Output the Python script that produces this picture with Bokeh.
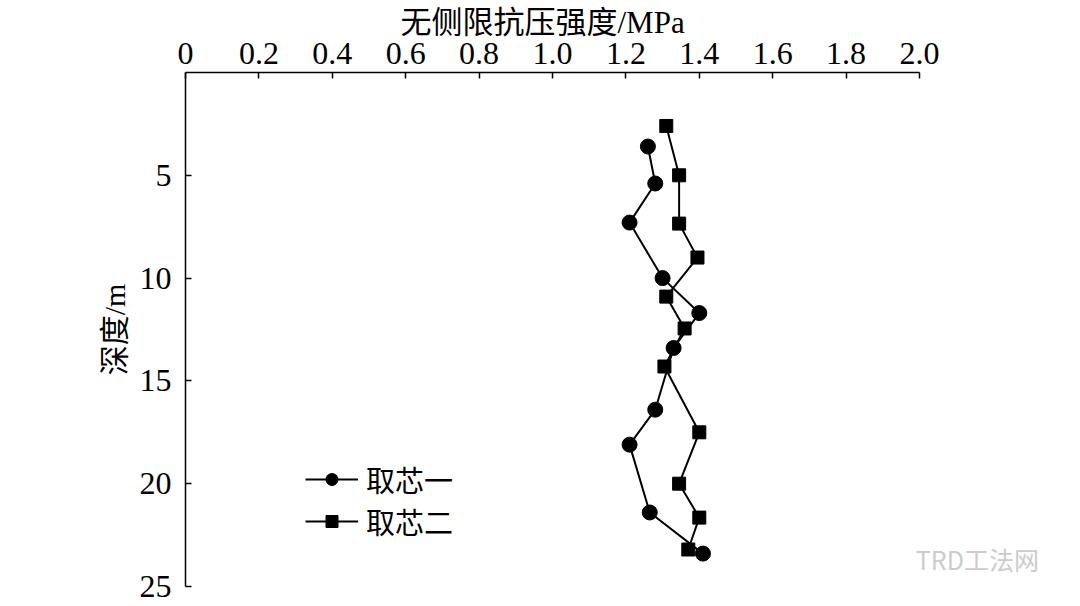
from bokeh.plotting import figure
from bokeh.models import Range1d, FixedTicker, Legend, LegendItem, Label, Title
from bokeh.embed import file_html
from bokeh.resources import INLINE

# ---- data ----
depth_core1 = [3.6, 5.4, 7.3, 10.0, 11.7, 13.4, 16.4, 18.1, 21.4, 23.4]
ucs_core1 = [1.26, 1.28, 1.21, 1.30, 1.40, 1.33, 1.28, 1.21, 1.265, 1.41]
depth_core2 = [2.6, 5.0, 7.35, 9.0, 10.9, 12.45, 14.3, 17.5, 20.0, 21.65, 23.2]
ucs_core2 = [1.31, 1.345, 1.345, 1.395, 1.31, 1.36, 1.305, 1.40, 1.345, 1.40, 1.37]
series_names = ["取芯一", "取芯二"]
x_ticks = [0, 0.2, 0.4, 0.6, 0.8, 1.0, 1.2, 1.4, 1.6, 1.8, 2.0]
x_tick_labels = ["0", "0.2", "0.4", "0.6", "0.8", "1.0", "1.2", "1.4", "1.6", "1.8", "2.0"]
y_ticks = [5, 10, 15, 20, 25]
x_title = "无侧限抗压强度/MPa"
y_title = "深度/m"
watermark = "TRD工法网"

SERIF = "Liberation Serif"
MIX = "'Liberation Serif', 'Noto Sans CJK SC'"

# frame is 887 px wide; axis 0..2.0 occupies 734 px, the rest is empty space for the watermark
x_end = 2.0 * 887 / 734

p = figure(width=1072, height=604, output_backend="svg", toolbar_location=None,
           x_range=Range1d(0, x_end), y_range=Range1d(25, 0),
           x_axis_location="above",
           min_border_left=185, min_border_right=0, min_border_top=72, min_border_bottom=18)
p.grid.visible = False
p.outline_line_color = None
p.background_fill_color = "white"
p.border_fill_color = "white"

xa = p.xaxis[0]
xa.ticker = FixedTicker(ticks=x_ticks)
xa.bounds = (0, 2.0)
xa.major_label_overrides = {t: l for t, l in zip(x_ticks, x_tick_labels)}
ya = p.yaxis[0]
ya.ticker = FixedTicker(ticks=y_ticks)

for ax in (xa, ya):
    ax.major_tick_in = 6
    ax.major_tick_out = 0
    ax.minor_tick_line_color = None
    ax.axis_line_width = 1.5
    ax.major_tick_line_width = 1.5
    ax.axis_line_color = "black"
    ax.major_tick_line_color = "black"
    ax.major_label_text_font = SERIF
    ax.major_label_text_font_size = "32px"
    ax.major_label_text_color = "black"
    ax.axis_label_text_font = MIX
    ax.axis_label_text_font_size = "30px"
    ax.axis_label_text_font_style = "normal"
    ax.axis_label_text_color = "black"

xa.major_label_standoff = 9
ya.axis_label = y_title
ya.major_label_standoff = 14
ya.axis_label_standoff = 6

# x-axis title placed over the 0..2.0 part of the axis
p.add_layout(Title(text=x_title, align="left", offset=215, standoff=0,
                   text_font=MIX, text_font_size="31px", text_font_style="normal",
                   text_color="black"), "above")

l1 = p.line(ucs_core1, depth_core1, line_color="black", line_width=2)
c1 = p.scatter(ucs_core1, depth_core1, marker="circle", size=15, fill_color="black", line_color="black")
l2 = p.line(ucs_core2, depth_core2, line_color="black", line_width=2)
c2 = p.scatter(ucs_core2, depth_core2, marker="square", size=13, fill_color="black", line_color="black")

legend = Legend(items=[LegendItem(label=series_names[0], renderers=[l1, c1]),
                       LegendItem(label=series_names[1], renderers=[l2, c2])],
                location=(120, 44), glyph_width=53, glyph_height=30, label_height=30,
                label_standoff=8, spacing=-3, padding=0, margin=0,
                border_line_color=None, background_fill_alpha=0,
                label_text_font="Noto Sans CJK SC", label_text_font_size="29px",
                label_text_color="black")
p.add_layout(legend)

wm = Label(x=1.99, y=23.65, text=watermark, text_font="Noto Sans CJK SC",
           text_font_size="25px", text_color="#cccccc", text_baseline="middle")
p.add_layout(wm)

open("out.html", "w").write(file_html(p, INLINE))
